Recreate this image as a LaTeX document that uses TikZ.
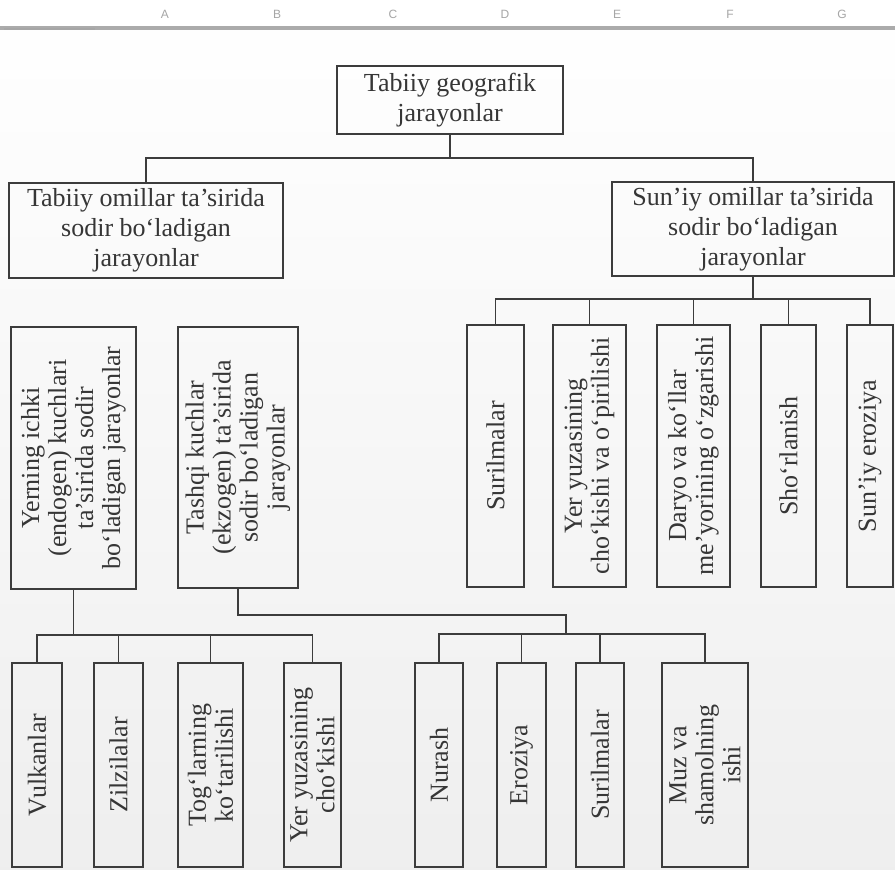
\documentclass[tikz,border=0pt]{standalone}
\usepackage{fontspec}
\setmainfont{Liberation Serif}
\setsansfont{Liberation Sans}
\definecolor{inkc}{HTML}{363636}
\definecolor{linec}{HTML}{3C3C3C}
\definecolor{bandc}{HTML}{ABABAB}
\tikzset{
  box/.style={draw=linec, line width=1.2pt, text=inkc, align=center, inner sep=0pt,
    font=\fontsize{26}{30}\selectfont},
  vbox/.style={box, rotate=90, font=\fontsize{26}{27}\selectfont},
  link/.style={draw=linec, line width=1.2pt},
  colmark/.style={font=\sffamily\fontsize{12}{12}\selectfont, text=gray!70},
}
\begin{document}
\begin{tikzpicture}[x=1pt, y=-1pt]
    \useasboundingbox (0,0) rectangle (895,870);
    \shade[top color=white, bottom color=gray!13] (0,0) rectangle (895,870);
    % page header
    \draw[bandc, line width=4pt] (0,28) -- (895,28);
    \draw[gray!70, line width=2pt] (4,29) -- (95,29);
    \node[colmark] (hdA) at (165,14) {A};
    \node[colmark] (hdB) at (277,14) {B};
    \node[colmark] (hdC) at (393,14) {C};
    \node[colmark] (hdD) at (505,14) {D};
    \node[colmark] (hdE) at (617,14) {E};
    \node[colmark] (hdF) at (730,14) {F};
    \node[colmark] (hdG) at (842,14) {G};
    % top levels
    \node[box, minimum width=226pt, minimum height=68pt] (geo) at (450,100) {Tabiiy geografik\\jarayonlar};
    \node[box, minimum width=274pt, minimum height=95pt] (tabiiy) at (146,230.5) {Tabiiy omillar ta’sirida\\sodir bo‘ladigan\\jarayonlar};
    \node[box, minimum width=282pt, minimum height=94pt] (suniy) at (753,229) {Sun’iy omillar ta’sirida\\sodir bo‘ladigan\\jarayonlar};
    % second level
    \node[vbox, minimum width=262pt, minimum height=125pt] (endo) at (73.5,458) {Yerning ichki\\(endogen) kuchlari\\ta’sirida sodir\\bo‘ladigan jarayonlar};
    \node[vbox, minimum width=261pt, minimum height=120pt] (ekzo) at (238,457.5) {Tashqi kuchlar\\(ekzogen) ta’sirida\\sodir bo‘ladigan\\jarayonlar};
    \node[vbox, minimum width=262pt, minimum height=57pt] (surA) at (495.5,456) {Surilmalar};
    \node[vbox, minimum width=262pt, minimum height=73pt] (cho) at (589.5,456) {Yer yuzasining\\cho‘kishi va o‘pirilishi};
    \node[vbox, minimum width=262pt, minimum height=73pt] (daryo) at (693.5,456) {Daryo va ko‘llar\\me’yorining o‘zgarishi};
    \node[vbox, minimum width=262pt, minimum height=55pt] (shor) at (788.5,456) {Sho‘rlanish};
    \node[vbox, minimum width=262pt, minimum height=46pt] (suneroz) at (870,456) {Sun’iy eroziya};
    % third level
    \node[vbox, minimum width=204pt, minimum height=50pt] (vulkan) at (37,765) {Vulkanlar};
    \node[vbox, minimum width=204pt, minimum height=49pt] (zilzila) at (118.5,765) {Zilzilalar};
    \node[vbox, minimum width=204pt, minimum height=65pt] (toglar) at (210.5,765) {Tog‘larning\\ko‘tarilishi};
    \node[vbox, minimum width=204pt, minimum height=57pt] (yeryuz) at (312.5,765) {Yer yuzasining\\cho‘kishi};
    \node[vbox, minimum width=204pt, minimum height=48pt] (nurash) at (439,765) {Nurash};
    \node[vbox, minimum width=204pt, minimum height=49pt] (eroz) at (521.5,765) {Eroziya};
    \node[vbox, minimum width=204pt, minimum height=48pt] (surB) at (600,765) {Surilmalar};
    \node[vbox, minimum width=204pt, minimum height=86pt] (muz) at (705,765) {Muz va\\shamolning\\ishi};
    % connectors
    \coordinate (geobus) at (450,158);
    \draw[link] (geo.south) -- (geobus);
    \draw[link] (tabiiy.north) -- (tabiiy.north |- geobus) -- (suniy.north |- geobus) -- (suniy.north);
    \coordinate (sunbus) at (755,299);
    \draw[link] (suniy.south) -- (suniy.south |- sunbus);
    \draw[link] (surA.east) -- (surA.east |- sunbus) -- (suneroz.east |- sunbus) -- (suneroz.east);
    \draw[link] (cho.east) -- (cho.east |- sunbus);
    \draw[link] (daryo.east) -- (daryo.east |- sunbus);
    \draw[link] (shor.east) -- (shor.east |- sunbus);
    \coordinate (endobus) at (75,635);
    \draw[link] (endo.west) -- (endo.west |- endobus);
    \draw[link] (vulkan.east) -- (vulkan.east |- endobus) -- (yeryuz.east |- endobus) -- (yeryuz.east);
    \draw[link] (zilzila.east) -- (zilzila.east |- endobus);
    \draw[link] (toglar.east) -- (toglar.east |- endobus);
    \coordinate (ekzbend) at (566,615);
    \coordinate (ekzbus) at (566,634);
    \draw[link] (ekzo.west) |- (ekzbend) -- (ekzbus);
    \draw[link] (nurash.east) -- (nurash.east |- ekzbus) -- (muz.east |- ekzbus) -- (muz.east);
    \draw[link] (eroz.east) -- (eroz.east |- ekzbus);
    \draw[link] (surB.east) -- (surB.east |- ekzbus);
\end{tikzpicture}
\end{document}
